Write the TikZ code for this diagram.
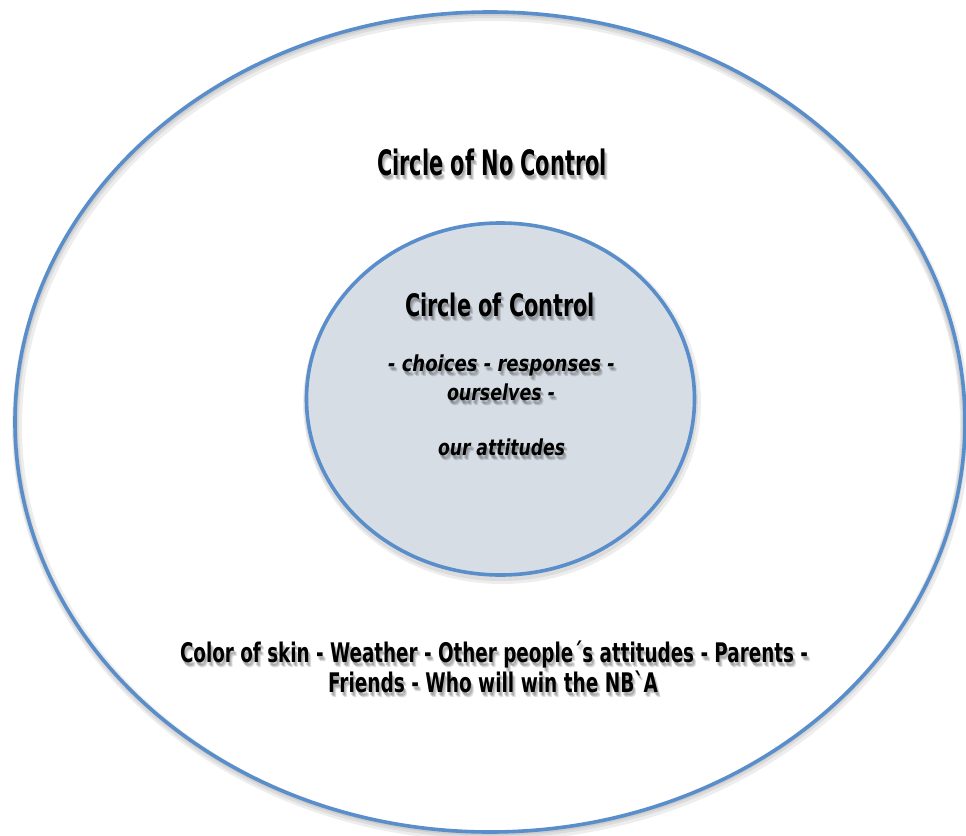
\documentclass[tikz,border=0pt]{standalone}
\usepackage{fontspec}
\usepackage{graphicx}
\setmainfont{DejaVu Sans}
\definecolor{ringblue}{RGB}{90,142,202}
\definecolor{innerfill}{RGB}{214,221,229}
\newsavebox{\lblbox}
\newcommand{\fitw}[3]{\sbox{\lblbox}{\fontsize{#2}{#2}\selectfont #3}%
  \scalebox{\fpeval{(#1)/(\the\wd\lblbox)}}[1]{\usebox{\lblbox}}}
\tikzset{
  ring/.style={draw=ringblue, line width=3.6pt},
  ringshadow/.style={draw=black, line width=#1, opacity=0.07},
  lbl/.style={anchor=base, inner sep=0pt, text=black},
  lblsh/.style={anchor=base, inner sep=0pt, text=black, opacity=0.13},
}
\newcommand{\shadowlabel}[3]{%
  \node[lblsh] (#1s1) at ([xshift=2pt,yshift=-4pt]#2) {#3};
  \node[lblsh] (#1s2) at ([xshift=3pt,yshift=-5pt]#2) {#3};
  \node[lblsh] (#1s3) at ([xshift=1pt,yshift=-3pt]#2) {#3};
  \node[lbl] (#1) at (#2) {#3};}
\begin{document}
\begin{tikzpicture}[x=1pt,y=-1pt]
\useasboundingbox (0,0) rectangle (966,835);
\fill[white] (0,0) rectangle (966,835);
% outer ellipse shadow
\draw[ringshadow=10pt] (491,426) ellipse [x radius=474, y radius=410];
\draw[ringshadow=6pt] (490,425) ellipse [x radius=474, y radius=410];
\draw[ringshadow=3pt] (490,424) ellipse [x radius=474, y radius=410];
% outer ellipse
\draw[ring] (490,422) ellipse [x radius=475, y radius=410];
% inner circle shadow
\draw[ringshadow=10pt] (502,403) ellipse [x radius=194, y radius=176];
\draw[ringshadow=6pt] (501,402) ellipse [x radius=194, y radius=176];
% inner circle
\draw[ring, fill=innerfill] (500.5,399) ellipse [x radius=194, y radius=176];
% labels
\coordinate (pNo) at (492,175);
\coordinate (pIn) at (500,316);
\coordinate (pIa) at (501.5,371);
\coordinate (pIb) at (501,400);
\coordinate (pIc) at (501.5,455);
\coordinate (pBa) at (494,662);
\coordinate (pBb) at (493,692);
\shadowlabel{nocontrol}{pNo}{\fitw{230pt}{35}{\bfseries Circle of No Control}}
\shadowlabel{control}{pIn}{\fitw{190pt}{31}{\bfseries Circle of Control}}
\shadowlabel{itemA}{pIa}{\fitw{227pt}{22}{\bfseries\itshape - choices - responses -}}
\shadowlabel{itemB}{pIb}{\fitw{108pt}{22}{\bfseries\itshape ourselves -}}
\shadowlabel{itemC}{pIc}{\fitw{127pt}{22}{\bfseries\itshape our attitudes}}
\shadowlabel{outerA}{pBa}{\fitw{628pt}{27}{\bfseries Color of skin - Weather - Other people´s attitudes - Parents -}}
\shadowlabel{outerB}{pBb}{\fitw{330pt}{27}{\bfseries Friends - Who will win the NB\textasciigrave A}}
\end{tikzpicture}
\end{document}
